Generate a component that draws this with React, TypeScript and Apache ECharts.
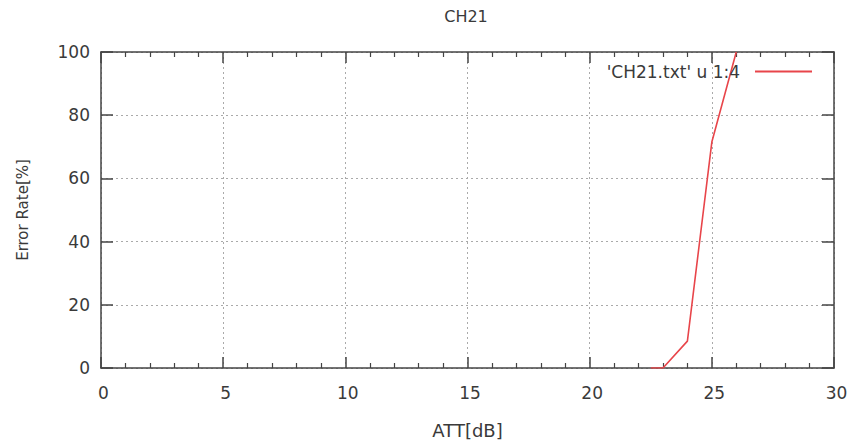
import React, { useEffect, useRef } from "react";
import * as echarts from "echarts";

const titleText = "CH21";
const seriesName = "'CH21.txt' u 1:4";
const attValues = [22.5, 23, 24, 25, 26];
const errorRates = [0, 0, 8.5, 71.5, 100];
const xAxisName = "ATT[dB]";
const yAxisName = "Error Rate[%]";

const FONT = "DejaVu Sans";
const AXIS_COLOR = "#444";
const TEXT_COLOR = "#3a3a3a";

export default function App() {
  const ref = useRef<HTMLDivElement>(null);
  useEffect(() => {
    if (!ref.current) return;
    const chart = echarts.init(ref.current, undefined, { renderer: "svg" });
    const xCommon = {
      type: "value" as const,
      min: 0,
      max: 30,
      interval: 5,
      axisLine: { show: true, onZero: false, lineStyle: { color: AXIS_COLOR, width: 1.5 } },
      axisTick: { show: true, inside: true, length: 11, lineStyle: { color: AXIS_COLOR, width: 1.5 } },
      minorTick: { show: true, splitNumber: 5, length: 5, lineStyle: { color: AXIS_COLOR, width: 1.2 } },
    };
    const yCommon = {
      type: "value" as const,
      min: 0,
      max: 100,
      interval: 20,
      axisLine: { show: true, onZero: false, lineStyle: { color: AXIS_COLOR, width: 1.5 } },
      axisTick: { show: true, inside: true, length: 12, lineStyle: { color: AXIS_COLOR, width: 1.5 } },
    };
    chart.setOption({
      animation: false,
      backgroundColor: "#fff",
      title: {
        text: titleText,
        left: 466,
        textAlign: "center",
        top: 8,
        padding: 0,
        textStyle: { fontFamily: FONT, fontSize: 16, fontWeight: "normal", color: TEXT_COLOR },
      },
      legend: {
        data: [seriesName],
        right: 40,
        top: 63,
        padding: 0,
        align: "right",
        icon: "rect",
        itemWidth: 57,
        itemHeight: 2,
        itemGap: 10,
        textStyle: { fontFamily: FONT, fontSize: 17, color: TEXT_COLOR, padding: [0, 10, 0, 0] },
      },
      grid: { left: 101, right: 18, top: 52, bottom: 71, containLabel: false },
      xAxis: [
        {
          ...xCommon,
          position: "bottom",
          name: xAxisName,
          nameLocation: "middle",
          nameGap: 53,
          nameTextStyle: { fontFamily: FONT, fontSize: 18, color: TEXT_COLOR },
          axisLabel: { fontFamily: FONT, fontSize: 17, color: TEXT_COLOR, margin: 16, padding: [0, 0, 0, 5] },
          splitLine: { show: true, lineStyle: { color: "#aaa", type: [2, 3], width: 1 } },
        },
        {
          ...xCommon,
          position: "top",
          axisLabel: { show: false },
          splitLine: { show: false },
        },
      ],
      yAxis: [
        {
          ...yCommon,
          position: "left",
          name: yAxisName,
          nameLocation: "middle",
          nameGap: 71,
          nameRotate: 90,
          nameTextStyle: { fontFamily: FONT, fontSize: 15, color: TEXT_COLOR },
          axisLabel: { fontFamily: FONT, fontSize: 17, color: TEXT_COLOR, margin: 11 },
          splitLine: { show: true, lineStyle: { color: "#aaa", type: [2, 3], width: 1 } },
        },
        {
          ...yCommon,
          position: "right",
          axisLabel: { show: false },
          splitLine: { show: false },
        },
      ],
      series: [
        {
          name: seriesName,
          type: "line",
          data: attValues.map((x, i) => [x, errorRates[i]]),
          showSymbol: false,
          lineStyle: { color: "#e8454a", width: 1.6 },
          itemStyle: { color: "#e8454a" },
          z: 1,
        },
      ],
    });
    return () => chart.dispose();
  }, []);
  return <div ref={ref} style={{ width: 852, height: 444, position: "absolute", left: 0, top: 0 }} />;
}
